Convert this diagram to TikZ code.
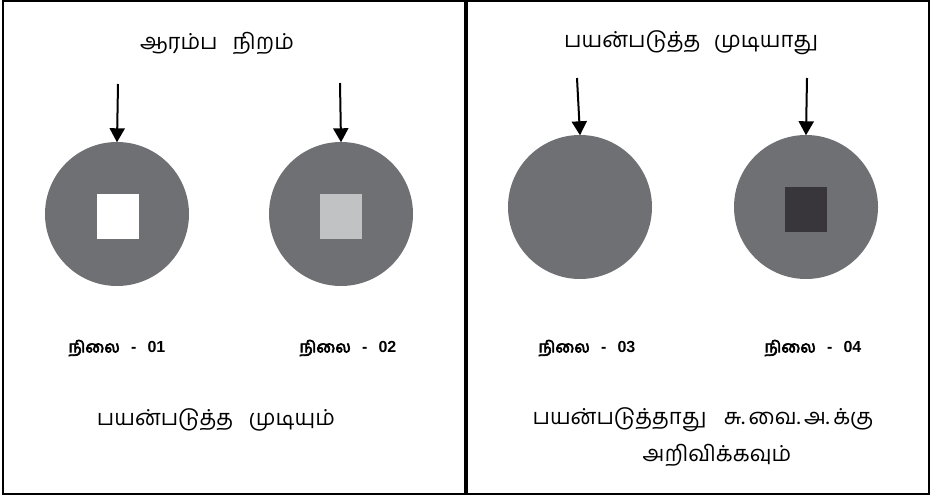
\documentclass[tikz,border=0pt]{standalone}
\usepackage{fontspec}
\newfontfamily\tam[Script=Tamil]{Hind Madurai}
\newfontfamily\tamb[Script=Tamil,FakeBold=4]{Hind Madurai}
\newfontfamily\numf{Liberation Sans}
\usetikzlibrary{arrows.meta}
\definecolor{circ}{HTML}{6F7074}
\definecolor{lite}{HTML}{C1C2C4}
\definecolor{dark}{HTML}{38363A}
\newcommand{\nilai}[1]{{\tamb நிலை}\hspace{0.7em}{\numf\bfseries -\hspace{0.7em}#1}}
\begin{document}
\begin{tikzpicture}[x=1pt,y=-1pt,
  disc/.style={circle,fill=circ,minimum size=144pt,inner sep=0pt},
  sq/.style={rectangle,minimum width=42pt,minimum height=45pt,inner sep=0pt},
  arr/.style={line width=2pt,-{Triangle[width=15pt,length=14pt]},shorten >=-0.5pt},
  title/.style={font=\tam\fontsize{22}{26}\selectfont,inner sep=0pt},
  lbl/.style={font=\fontsize{16}{19}\selectfont,inner sep=0pt},
  frame/.style={line width=2pt}]
\useasboundingbox (0,0) rectangle (936,497);
\draw[frame] (3,1.5) rectangle (465,493.5);
\draw[frame] (466.5,1.5) rectangle (929,493.5);
% titles
\node[title] (t1) at (217,43) {ஆரம்ப\hspace{0.7em}நிறம்};
\node[title] (t2) at (691,43) {பயன்படுத்த\hspace{0.6em}முடியாது};
% discs
\node[disc] (c1) at (117,214) {};
\node[disc] (c2) at (341,214) {};
\node[disc] (c3) at (580,207) {};
\node[disc] (c4) at (806,207) {};
\node[sq,fill=white] (s1) at (118,216.5) {};
\node[sq,fill=lite] (s2) at (341,216.5) {};
\node[sq,fill=dark] (s4) at (806,209.5) {};
% arrows
\coordinate (a1) at (118,84);
\coordinate (a2) at (340,83);
\coordinate (a3) at (577,78);
\coordinate (a4) at (807,78);
\draw[arr] (a1) -- (c1.north);
\draw[arr] (a2) -- (c2.north);
\draw[arr] (a3) -- (c3.north);
\draw[arr] (a4) -- (c4.north);
% labels
\node[lbl] (l1) at (117,348) {\nilai{01}};
\node[lbl] (l2) at (348,348) {\nilai{02}};
\node[lbl] (l3) at (587,348) {\nilai{03}};
\node[lbl] (l4) at (813,348) {\nilai{04}};
% bottom texts
\node[title] (b1) at (216,420) {பயன்படுத்த\hspace{0.7em}முடியும்};
\node[title] (b2) at (703,420) {பயன்படுத்தாது\hspace{0.8em}சு.\,வை.\,அ.\,க்கு};
\node[title] (b3) at (717,455) {அறிவிக்கவும்};
\end{tikzpicture}
\end{document}
